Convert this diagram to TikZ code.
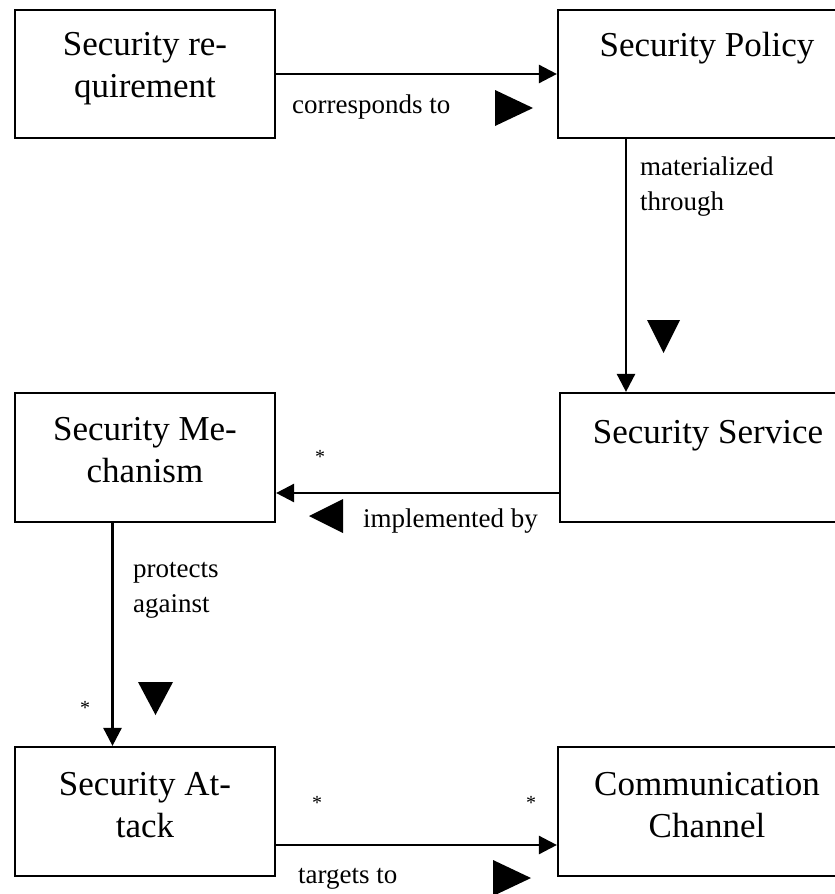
\documentclass[tikz,border=0pt]{standalone}
\usepackage{fontspec}
\setmainfont{Liberation Serif}
\usetikzlibrary{arrows.meta}
\begin{document}
\begin{tikzpicture}[x=1pt,y=-1pt,
  box/.style={draw, line width=2.2pt, rectangle, inner sep=0pt},
  boxtext/.style={anchor=base, align=center, font=\fontsize{35}{42}\selectfont, inner sep=0pt},
  lbl/.style={anchor=base west, align=left, font=\fontsize{27}{35}\selectfont, inner sep=0pt},
  star/.style={font=\fontsize{20}{20}\selectfont, inner sep=0pt},
  conn/.style={line width=2.6pt, -{Triangle[length=18pt,width=18pt]}},
  dirmark/.style={fill=black}]
\useasboundingbox (0,0) rectangle (835,894);
\clip (0,0) rectangle (835,894);
% boxes
\node[box, minimum width=260pt, minimum height=128pt] (req) at (145,74) {};
\node[box, minimum width=298pt, minimum height=128pt] (pol) at (707,74) {};
\node[box, minimum width=260pt, minimum height=129pt] (mech) at (145,457.5) {};
\node[box, minimum width=296pt, minimum height=129pt] (serv) at (708,457.5) {};
\node[box, minimum width=260pt, minimum height=129pt] (att) at (145,811.5) {};
\node[box, minimum width=298pt, minimum height=129pt] (chan) at (707,811.5) {};
% box texts (multi-line nodes are placed by the baseline of their last line)
\node[boxtext] (treq) at (145,97) {Security re-\\quirement};
\node[boxtext] (tpol) at (707,56) {Security Policy};
\node[boxtext] (tmech) at (145,482) {Security Me-\\chanism};
\node[boxtext] (tserv) at (708,443) {Security Service};
\node[boxtext] (tatt) at (145,837) {Security At-\\tack};
\node[boxtext] (tchan) at (707,837) {Communication\\Channel};
% connectors
\draw[conn] (req.east) -- (pol.west);
\draw[conn] ([xshift=-81pt]pol.south) -- ([xshift=-82pt]serv.north);
\draw[conn] ([yshift=-35.5pt]serv.west) -- ([yshift=-35.5pt]mech.east);
\draw[conn] ([xshift=-32.5pt]mech.south) -- ([xshift=-32.5pt]att.north);
\draw[conn] ([yshift=-33.5pt]att.east) -- ([yshift=-33.5pt]chan.west);
% labels
\node[lbl] (l1) at (292,113) {corresponds to};
\node[lbl] (l2) at (640,210) {materialized\\through};
\node[lbl] (l3) at (363,527) {implemented by};
\node[lbl] (l4) at (133,612) {protects\\against};
\node[lbl] (l5) at (298,883) {targets to};
% multiplicities
\node[star] (s1) at (320,457) {*};
\node[star] (s2) at (85,708) {*};
\node[star] (s3) at (317,803) {*};
\node[star] (s4) at (531,803) {*};
% direction triangles
\fill[dirmark] (495,90) -- (533,108) -- (495,126) -- cycle;
\fill[dirmark] (647,320) -- (680,320) -- (663.5,353) -- cycle;
\fill[dirmark] (343,499) -- (309,516) -- (343,533) -- cycle;
\fill[dirmark] (138,682) -- (173,682) -- (155.5,715) -- cycle;
\fill[dirmark] (493,860) -- (531,878) -- (493,896) -- cycle;
\end{tikzpicture}
\end{document}
